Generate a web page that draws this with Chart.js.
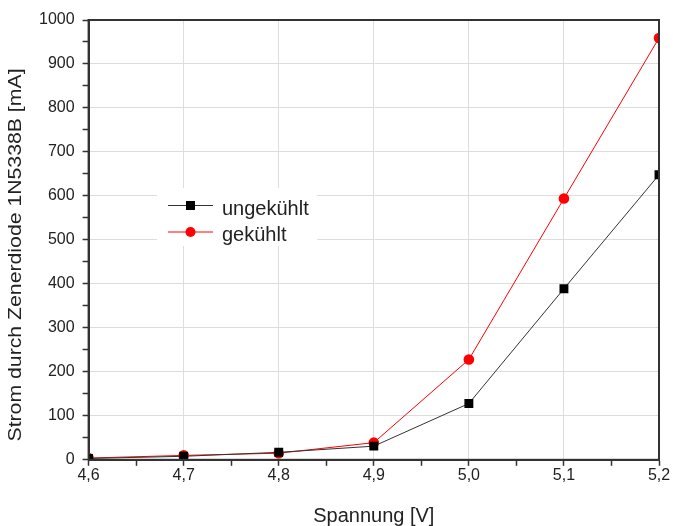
<!DOCTYPE html>
<html>
<head>
<meta charset="utf-8">
<script src="https://cdn.jsdelivr.net/npm/chart.js@4"></script>
<style>
  html, body { margin: 0; padding: 0; background: #fff; }
  #wrap { width: 673px; height: 526px; }
</style>
</head>
<body>
<div id="wrap"><canvas id="diodeChart" width="673" height="526"></canvas></div>
<script>
// Spannung [V]
const voltages = [4.6, 4.7, 4.8, 4.9, 5.0, 5.1, 5.2];
// Strom [mA]
const currentUncooled = [3, 8, 17, 31, 128, 389, 648];
const currentCooled = [4, 10, 15, 39, 228, 594, 959];

const seriesNames = ['ungekühlt', 'gekühlt'];
const seriesColors = ['#000000', '#ff0000'];
const yTitle = 'Strom durch Zenerdiode 1N5338B [mA]';
const xTitle = 'Spannung [V]';

const FONT = 'Liberation Sans, Arial, sans-serif';

function isMajorX(v) {
    return Math.abs(Math.round(v * 10) - v * 10) < 1e-6;
}
function isMajorY(v) {
    return Math.round(v) % 100 === 0;
}

// frame around the plot area, y title and legend box inside the plot
const framePlugin = {
    id: 'frame',
    afterDraw(c) {
        const ctx = c.ctx;
        const a = c.chartArea;
        ctx.save();
        ctx.strokeStyle = '#333';
        ctx.lineWidth = 2;
        ctx.strokeRect(a.left, a.top, a.right - a.left, a.bottom - a.top);

        // y axis title (stretched a bit along its length like the original)
        ctx.save();
        ctx.translate(16.5, 255);
        ctx.rotate(-Math.PI / 2);
        ctx.scale(1.18, 1);
        ctx.font = '18px ' + FONT;
        ctx.fillStyle = '#222';
        ctx.textAlign = 'center';
        ctx.textBaseline = 'middle';
        ctx.fillText(yTitle, 0, 0);
        ctx.restore();

        // legend
        ctx.fillStyle = '#fff';
        ctx.fillRect(157, 188, 160, 58);
        ctx.font = '20px ' + FONT;
        ctx.textBaseline = 'alphabetic';
        seriesNames.forEach((name, i) => {
            const y = 205.5 + i * 26.5;
            ctx.strokeStyle = i === 0 ? '#333' : seriesColors[i];
            ctx.lineWidth = 1;
            ctx.beginPath();
            ctx.moveTo(168, y);
            ctx.lineTo(213, y);
            ctx.stroke();
            ctx.fillStyle = seriesColors[i];
            if (i === 0) {
                ctx.fillRect(186, y - 4.5, 9, 9);
            } else {
                ctx.beginPath();
                ctx.arc(190.5, y, 5, 0, Math.PI * 2);
                ctx.fill();
            }
            ctx.fillStyle = '#222';
            ctx.fillText(name, 222, 215 + i * 25.5);
        });
        ctx.restore();
    }
};

const ctx = document.getElementById('diodeChart').getContext('2d');
new Chart(ctx, {
    type: 'line',
    data: {
        datasets: [
            {
                label: seriesNames[0],
                data: voltages.map((v, i) => ({ x: v, y: currentUncooled[i] })),
                borderColor: '#333',
                backgroundColor: seriesColors[0],
                borderWidth: 1,
                pointStyle: 'rect',
                pointRadius: 6.3,
                pointBorderWidth: 0,
                tension: 0
            },
            {
                label: seriesNames[1],
                data: voltages.map((v, i) => ({ x: v, y: currentCooled[i] })),
                borderColor: seriesColors[1],
                backgroundColor: seriesColors[1],
                borderWidth: 1,
                pointStyle: 'circle',
                pointRadius: 5.3,
                pointBorderWidth: 0,
                tension: 0
            }
        ]
    },
    options: {
        responsive: false,
        animation: false,
        layout: { padding: { top: 20, right: 14, left: 31, bottom: 0 } },
        plugins: {
            legend: { display: false },
            tooltip: { enabled: false }
        },
        scales: {
            x: {
                type: 'linear',
                min: 4.6,
                max: 5.2,
                ticks: {
                    stepSize: 0.05,
                    autoSkip: false,
                    maxRotation: 0,
                    color: '#222',
                    font: { family: FONT, size: 16 },
                    padding: 0,
                    callback: v => isMajorX(v) ? v.toFixed(1).replace('.', ',') : ''
                },
                grid: {
                    color: c => isMajorX(c.tick.value) ? '#dddddd' : 'rgba(0,0,0,0)',
                    tickColor: '#333',
                    tickLength: 6,
                    tickWidth: 1.5
                },
                border: { color: '#333', width: 2 },
                title: {
                    display: true,
                    text: xTitle,
                    color: '#222',
                    font: { family: FONT, size: 20, lineHeight: 1 },
                    padding: { top: 21, bottom: 0 }
                }
            },
            y: {
                min: 0,
                max: 1000,
                ticks: {
                    stepSize: 50,
                    autoSkip: false,
                    color: '#222',
                    font: { family: FONT, size: 16 },
                    padding: 8,
                    callback: v => isMajorY(v) ? String(v) : ''
                },
                grid: {
                    color: c => isMajorY(c.tick.value) ? '#dddddd' : 'rgba(0,0,0,0)',
                    tickColor: '#333',
                    tickLength: 6,
                    tickWidth: 1.5
                },
                border: { color: '#333', width: 2 },
                title: { display: false }
            }
        }
    },
    plugins: [framePlugin]
});
</script>
</body>
</html>
